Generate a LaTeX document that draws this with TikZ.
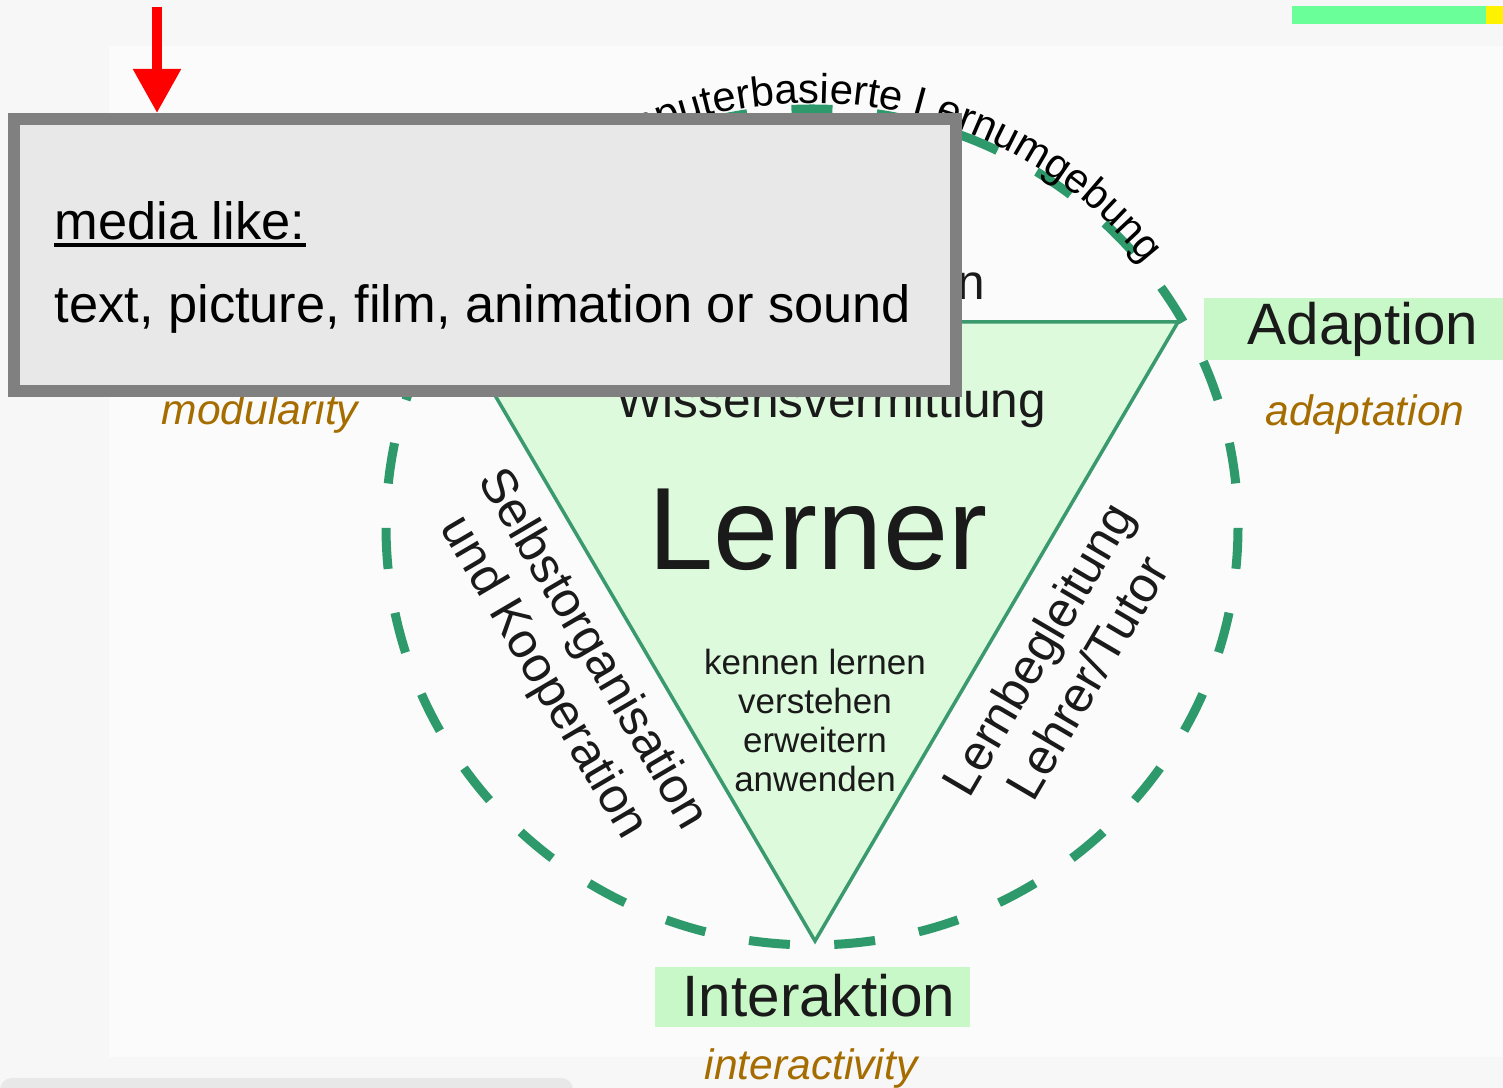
\documentclass[tikz,border=0pt]{standalone}
\usepackage{fontspec}
\setmainfont{Liberation Sans}
\usepackage{tikz}
\usetikzlibrary{arrows.meta,decorations.text,calc}
\definecolor{pagegray}{HTML}{F7F7F7}
\definecolor{panelwhite}{HTML}{FBFBFB}
\definecolor{stripgray}{HTML}{E8E8E8}
\definecolor{bargreen}{HTML}{6BFF9A}
\definecolor{ringgreen}{HTML}{2E9A6B}
\definecolor{trifill}{HTML}{DDFADC}
\definecolor{triline}{HTML}{3A9A6E}
\definecolor{labelgreen}{HTML}{C8F7C8}
\definecolor{glossgold}{HTML}{A56C00}
\definecolor{boxgray}{HTML}{808080}
\definecolor{boxfill}{HTML}{E8E8E8}
\definecolor{ink}{HTML}{1A1A1A}

\begin{document}
\begin{tikzpicture}[x=0.01cm,y=0.01cm,
  gloss/.style={font=\fontsize{12.1}{14}\selectfont\itshape,text=glossgold,inner sep=0pt},
  sidelabel/.style={font=\fontsize{14.1}{16.2}\selectfont,text=ink,align=center,inner sep=0pt},
  keyword/.style={font=\fontsize{16.6}{19}\selectfont,text=ink,inner sep=0pt},
  verbline/.style={font=\fontsize{9.95}{11}\selectfont,text=ink,inner sep=0pt},
  boxtext/.style={font=\fontsize{14.9}{17}\selectfont,text=black,inner sep=0pt}]
  \useasboundingbox (0,0) rectangle (1503,1088);
  \clip (0,0) rectangle (1503,1088);
  % page and panel
  \fill[pagegray] (0,0) rectangle (1503,1088);
  \fill[panelwhite] (109,31) rectangle (1503,1042);
  \fill[stripgray,rounded corners=0.12cm] (0,-20) rectangle (573,10);
  \fill[bargreen] (1292,1064) rectangle (1486,1082);
  \fill[yellow] (1486,1064) rectangle (1503,1082);

  % dashed ring
  \coordinate (ringc) at (812,561);
  \draw[ringgreen,line width=0.09cm,dash pattern=on 0.41cm off 0.445cm,dash phase=0.6326cm]
    (812,143) arc[start angle=-90,end angle=270,x radius=426,y radius=418];

  % triangle
  \coordinate (tl) at (452,766);
  \coordinate (tr) at (1178,766);
  \coordinate (bt) at (815,147);
  \filldraw[fill=trifill,draw=triline,line width=0.035cm] (tl) -- (tr) -- (bt) -- cycle;

  \node[sidelabel,anchor=base east] (praes) at (986,788) {Präsentation};
  \node[sidelabel,anchor=base] (wissen) at (831,670) {Wissensvermittlung};
  \node[font=\fontsize{33.3}{38}\selectfont,text=ink,inner sep=0pt,anchor=base] (lerner) at (818,518) {Lerner};
  \foreach \w [count=\i] in {kennen lernen,verstehen,erweitern,anwenden}
    \node[verbline,anchor=base] (verb\i) at (815,452-39*\i) {\w};
  \node[sidelabel,rotate=-59.6] (selbst) at (567,424) {Selbstorganisation\\und Kooperation};
  \node[sidelabel,rotate=59.6] (begleit) at (1062,425) {Lernbegleitung\\Lehrer/Tutor};

  % text on the ring
  \path[decorate,decoration={text along path,text align=center,
      text={|\fontsize{11.9}{14}\selectfont|computerbasierte Lernumgebung}}]
    ($(ringc)+(135:424)$) arc[start angle=135,end angle=25,radius=424];

  % labels
  \fill[labelgreen] (1204,728) rectangle (1503,790);
  \node[keyword,anchor=base west] (adapt) at (1247,743) {Adaption};
  \fill[labelgreen] (655,61) rectangle (970,121);
  \node[keyword,anchor=base west] (interakt) at (682,71) {Interaktion};
  \node[gloss,anchor=base] (modul) at (260,663) {modularity};
  \node[gloss,anchor=base] (adapten) at (1365,662) {adaptation};
  \node[gloss,anchor=base] (interen) at (811,8) {interactivity};

  % media box
  \node[draw=boxgray,fill=boxfill,line width=0.12cm,minimum width=9.42cm,minimum height=2.72cm,inner sep=0pt] (mediabox) at (485,833) {};
  \node[boxtext,anchor=base west] (medialabel) at (54,848) {media like:};
  \draw[line width=0.035cm] ([yshift=-0.05cm]medialabel.base west) -- ([yshift=-0.05cm]medialabel.base east);
  \node[boxtext,anchor=base west] (medialist) at (54,765) {text, picture, film, animation or sound};

  \coordinate (arrowtop) at (157,1081);
  \draw[red,line width=0.09cm,-{Triangle[length=0.44cm,width=0.46cm]}] (arrowtop) -- (arrowtop |- mediabox.north);
\end{tikzpicture}
\end{document}
